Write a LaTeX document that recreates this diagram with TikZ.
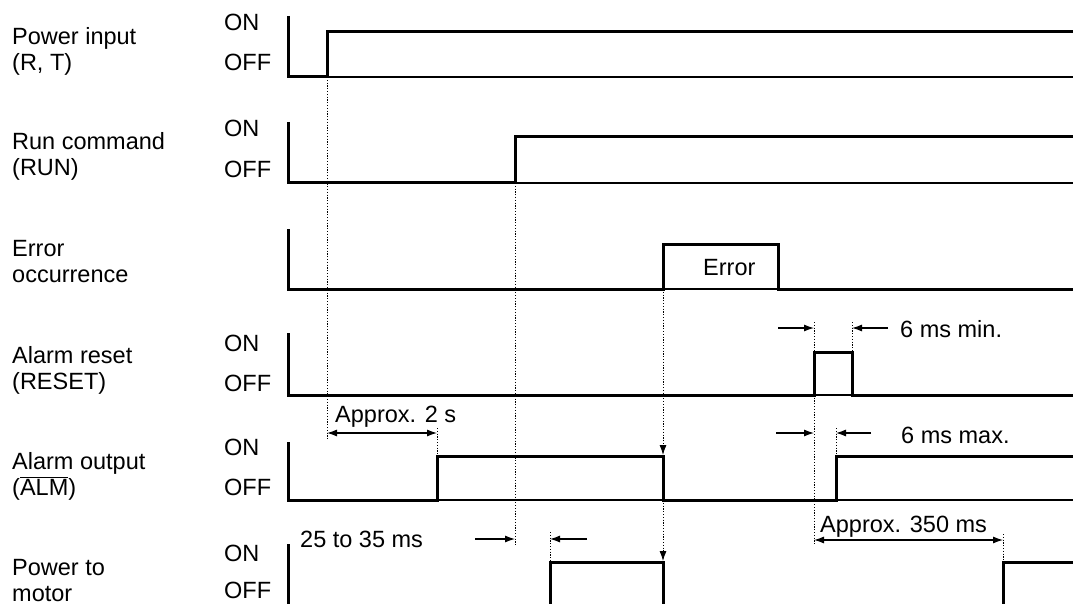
\documentclass[tikz,border=0pt]{standalone}
\usepackage{fontspec}
\setmainfont{Liberation Sans}
\usetikzlibrary{arrows.meta}

\begin{document}
\begin{tikzpicture}[x=1pt,y=-1pt,
  sig/.style={line width=3pt,line join=miter},
  offlvl/.style={line width=2pt},
  guide/.style={line width=0.9pt,dash pattern=on 1.2pt off 1.6pt},
  dim/.style={line width=1.1pt,-{Latex[length=10pt,width=7pt]}},
  dimboth/.style={line width=1.1pt,{Latex[length=10pt,width=7pt]}-{Latex[length=10pt,width=7pt]}},
  lbl/.style={anchor=base west,inner sep=0pt,align=left,font=\fontsize{23.5}{26}\selectfont}]

  \useasboundingbox (0,0) rectangle (1073,604);
  \clip (0,0) rectangle (1073,604);

  % signal names and levels
  \node[lbl] (pwrlbl)  at (12,70.5) {Power input\\(R, T)};
  \node[lbl] (runlbl)  at (12,175.5) {Run command\\(RUN)};
  \node[lbl] (errlbl)  at (12,282) {Error\\occurrence};
  \node[lbl] (rstlbl)  at (12,389) {Alarm reset\\(RESET)};
  \node[lbl] (almlbl)  at (12,495) {Alarm output\\($\overline{\mbox{ALM}}$)};
  \node[lbl] (motlbl)  at (12,601) {Power to\\motor};

  \node[lbl] (pwron)  at (224,31)  {ON};  \node[lbl] (pwroff) at (224,71)  {OFF};
  \node[lbl] (runon)  at (224,137) {ON};  \node[lbl] (runoff) at (224,178) {OFF};
  \node[lbl] (rston)  at (224,351) {ON};  \node[lbl] (rstoff) at (224,391) {OFF};
  \node[lbl] (almon)  at (224,455) {ON};  \node[lbl] (almoff) at (224,495) {OFF};
  \node[lbl] (moton)  at (224,561) {ON};  \node[lbl] (motoff) at (224,598) {OFF};

  % OFF reference lines
  \foreach \y in {77,183,289,395,500}
    \draw[offlvl] (288,\y) -- (1073,\y);

  % waveforms
  \draw[sig] (288,16) -- (288,77) -- (327,77) -- (327,32) -- (1073,32);
  \draw[sig] (288,122) -- (288,183) -- (515,183) -- (515,137) -- (1073,137);
  \draw[sig] (288,229) -- (288,289) -- (663,289) -- (663,244) -- (778,244)
             -- (778,289) -- (1073,289);
  \draw[sig] (288,333) -- (288,395) -- (814,395) -- (814,352) -- (852,352)
             -- (852,395) -- (1073,395);
  \draw[sig] (288,442) -- (288,500) -- (437,500) -- (437,456) -- (663,456)
             -- (663,500) -- (836,500) -- (836,456) -- (1073,456);
  \draw[sig] (288,544) -- (288,612);
  \draw[sig] (550,612) -- (550,562) -- (663,562) -- (663,612);
  \draw[sig] (1003,612) -- (1003,562) -- (1073,562);
  \node[lbl] (errtxt) at (703,275) {Error};

  % event points
  \coordinate (pwrup)  at (327,77);
  \coordinate (runup)  at (515,183);
  \coordinate (errup)  at (663,289);
  \coordinate (almdn)  at (663,455);
  \coordinate (almlow) at (663,500);
  \coordinate (motdn)  at (663,561);

  % dotted guides
  \draw[guide] (pwrup) -- (327,440);
  \draw[guide] (runup) -- (515,546);
  \draw[guide,-{Latex[length=10pt,width=7pt]}] (errup) -- (almdn);
  \draw[guide,-{Latex[length=10pt,width=7pt]}] (almlow) -- (motdn);
  \draw[guide] (814,322) -- (814,545);
  \draw[guide] (852,322) -- (852,352);
  \draw[guide] (437,428) -- (437,456);
  \draw[guide] (836,428) -- (836,456);
  \draw[guide] (550,532) -- (550,562);
  \draw[guide] (1003,534) -- (1003,562);

  % timing marks
  \coordinate (t2a) at (327,433);  \coordinate (t2b) at (437,433);
  \draw[dimboth] (t2a) -- (t2b);
  \node[lbl] (t2txt) at (335,422) {Approx. 2 s};

  \coordinate (mina) at (778,328); \coordinate (minb) at (814,328);
  \coordinate (minc) at (888,328); \coordinate (mind) at (852,328);
  \draw[dim] (mina) -- (minb);
  \draw[dim] (minc) -- (mind);
  \node[lbl] (mintxt) at (900,337) {6 ms min.};

  \coordinate (maxa) at (776,433); \coordinate (maxb) at (814,433);
  \coordinate (maxc) at (871,433); \coordinate (maxd) at (836,433);
  \draw[dim] (maxa) -- (maxb);
  \draw[dim] (maxc) -- (maxd);
  \node[lbl] (maxtxt) at (901,443) {6 ms max.};

  \coordinate (dla) at (475,539); \coordinate (dlb) at (515,539);
  \coordinate (dlc) at (587,539); \coordinate (dld) at (550,539);
  \draw[dim] (dla) -- (dlb);
  \draw[dim] (dlc) -- (dld);
  \node[lbl] (dltxt) at (300,547) {25 to 35 ms};

  \coordinate (t3a) at (814,540);  \coordinate (t3b) at (1003,540);
  \draw[dimboth] (t3a) -- (t3b);
  \node[lbl] (t3txt) at (820,532) {Approx. 350 ms};
\end{tikzpicture}
\end{document}
